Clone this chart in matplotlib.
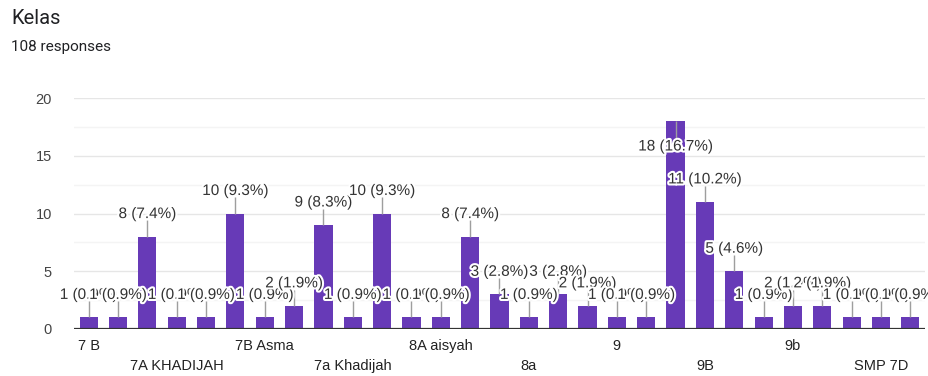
import matplotlib
matplotlib.use("Agg")
import matplotlib.pyplot as plt
import matplotlib.patheffects as pe
from matplotlib.transforms import blended_transform_factory

# Survey answers for "Kelas" (class), one bar per distinct answer
categories = [
    "7 B", "7A", "7A Aisyah", "7A KHADIJAH", "7A Khadijah", "7B",
    "7B Asma", "7B asma", "7a", "7a Khadijah", "7b", "8 A",
    "8A aisyah", "8A Aisyah", "8B", "8a", "8b", "8b Fatimah",
    "9", "9 A", "9A", "9B", "9B Maryam", "9a", "9b", "9b Maryam",
    "SMP 7A", "SMP 7D", "SMP 8A",
]
counts = [
    1, 1, 8, 1, 1, 10,
    1, 2, 9, 1, 10, 1,
    1, 8, 3, 1, 3, 2,
    1, 1, 18, 11, 5, 1, 2, 2,
    1, 1, 1,
]
total_responses = 108
y_ticks = [0, 5, 10, 15, 20]

BAR = "#673ab7"
TEXT = "#222222"

plt.rcParams["font.family"] = ["Liberation Sans", "DejaVu Sans"]

fig = plt.figure(figsize=(9.29, 3.76), dpi=100)
ax = fig.add_axes([74 / 929, 47 / 376, 851 / 929, 231 / 376])

x = list(range(len(categories)))
ax.bar(x, counts, width=0.62, color=BAR, zorder=2)

ymax = y_ticks[-1]
ax.set_xlim(-0.5, len(categories) - 0.5)
ax.set_ylim(0, ymax)

# grid: major lines every 5, faint minor lines in between
for t in y_ticks[1:]:
    ax.axhline(t, color="#e6e6e6", lw=1.0, zorder=0)
    ax.axhline(t - 2.5, color="#f4f4f4", lw=1.0, zorder=0)
ax.axhline(0, color="#333333", lw=1.6, zorder=3)

for s in ax.spines.values():
    s.set_visible(False)
ax.set_yticks(y_ticks)
ax.set_yticklabels([str(t) for t in y_ticks])
ax.tick_params(axis="y", length=0, pad=16, labelsize=10.5, labelcolor="#444444")
ax.set_xticks([])

# value annotations with leader lines; labels that would hit the top go inside the bar
halo = [pe.withStroke(linewidth=3, foreground="white")]
for xi, v in zip(x, counts):
    pct = 100.0 * v / total_responses
    label = f"{v} ({pct:.1f}%)"
    ly = v + 1.95
    if ly + 0.7 > ymax:
        ly = v - 2.2
        line_end = v - 1.6
    else:
        line_end = v + 1.4
    ax.plot([xi, xi], [v, line_end], color="#9e9e9e", lw=1.0, zorder=3,
            solid_capstyle="butt")
    ax.text(xi, ly, label, ha="center", va="center", fontsize=11,
            color="#333333", zorder=5, path_effects=halo)

# category labels: every third answer, alternating between two rows
trans = blended_transform_factory(ax.transData, ax.transAxes)
for k, i in enumerate(range(0, len(categories), 3)):
    yrow = -0.074 if k % 2 == 0 else -0.16
    ax.text(i, yrow, categories[i], transform=trans, ha="center", va="center",
            fontsize=10.5, color=TEXT)

fig.text(11 / 929, 1 - 19 / 376, "Kelas", fontsize=14.5, color="#202124",
         va="center", ha="left", family=["Roboto", "DejaVu Sans"])
fig.text(11 / 929, 1 - 47 / 376, f"{total_responses} responses", fontsize=11,
         color="#202124", va="center", ha="left", family=["Roboto", "DejaVu Sans"])

fig.savefig("out.png", dpi=100)
